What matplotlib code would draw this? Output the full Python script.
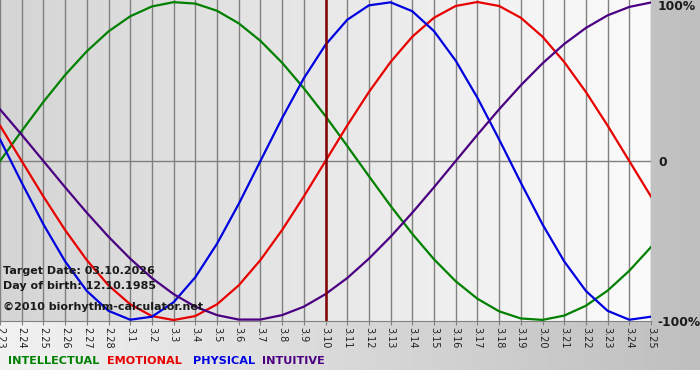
import numpy as np
import matplotlib
matplotlib.use("Agg")
import matplotlib.pyplot as plt
from matplotlib.colors import LinearSegmentedColormap

days = ["2.23", "2.24", "2.25", "2.26", "2.27", "2.28",
        "3.1", "3.2", "3.3", "3.4", "3.5", "3.6", "3.7", "3.8", "3.9", "3.10",
        "3.11", "3.12", "3.13", "3.14", "3.15", "3.16", "3.17", "3.18", "3.19",
        "3.20", "3.21", "3.22", "3.23", "3.24", "3.25"]

intellectual = [0.0, 0.189, 0.372, 0.541, 0.690, 0.815, 0.910, 0.972, 0.999, 0.990,
                0.945, 0.866, 0.756, 0.618, 0.458, 0.282, 0.095, -0.095, -0.282, -0.458,
                -0.618, -0.756, -0.866, -0.945, -0.990, -0.999, -0.972, -0.910, -0.815,
                -0.690, -0.541]
emotional = [0.223, 0.0, -0.223, -0.434, -0.623, -0.782, -0.901, -0.975, -1.0, -0.975,
             -0.901, -0.782, -0.623, -0.434, -0.223, 0.0, 0.223, 0.434, 0.623, 0.782,
             0.901, 0.975, 1.0, 0.975, 0.901, 0.782, 0.623, 0.434, 0.223, 0.0, -0.223]
physical = [0.136, -0.136, -0.398, -0.631, -0.817, -0.942, -0.998, -0.979, -0.888, -0.731,
            -0.520, -0.270, 0.0, 0.270, 0.520, 0.731, 0.888, 0.979, 0.998, 0.942,
            0.817, 0.631, 0.398, 0.136, -0.136, -0.398, -0.631, -0.817, -0.942, -0.998,
            -0.979]
intuitive = [0.325, 0.165, 0.0, -0.165, -0.325, -0.476, -0.614, -0.736, -0.837, -0.916,
             -0.969, -0.997, -0.997, -0.969, -0.916, -0.837, -0.736, -0.614, -0.476, -0.325,
             -0.165, 0.0, 0.165, 0.325, 0.476, 0.614, 0.736, 0.837, 0.916, 0.969, 0.997]

target_label = "3.10"
series = [("INTELLECTUAL", intellectual, "#008000"),
          ("EMOTIONAL", emotional, "#e80000"),
          ("PHYSICAL", physical, "#0000e0"),
          ("INTUITIVE", intuitive, "#4b0082")]

W, H = 700, 380
fig = plt.figure(figsize=(W / 100, H / 100), dpi=100)
fig.patch.set_facecolor("white")

# outer gradient panel
bg = fig.add_axes([0, 10 / H, 1, 1 - 10 / H], zorder=-10)
grad = np.linspace(0, 1, 256)[None, :]
cm_out = LinearSegmentedColormap.from_list("o", ["#f2f2f2", "#bfbfbf"])
bg.imshow(grad, aspect="auto", cmap=cm_out, extent=[0, 1, 0, 1])
bg.set_axis_off()

ax = fig.add_axes([0, (H - 321) / H, 651 / W, 321 / H])
x = np.arange(len(days))
ax.set_xlim(0, len(days) - 1)
ax.set_ylim(-1.006, 1.0126)

cm_in = LinearSegmentedColormap.from_list("i", ["#d5d5d5", "#fbfbfb"])
ax.imshow(grad, aspect="auto", cmap=cm_in, extent=[0, len(days) - 1, -1.006, 1.0126], zorder=0)

for xi in x:
    ax.axvline(xi, color="#808080", lw=1.0, zorder=1)
ax.axhline(0, color="#808080", lw=1.0, zorder=1)

for name, vals, col in series:
    ax.plot(x, vals, color=col, lw=1.6, zorder=3, solid_joinstyle="round")

ax.axvline(days.index(target_label), color="#800000", lw=1.8, zorder=4)

for s in ["top", "right", "left"]:
    ax.spines[s].set_visible(False)
ax.spines["bottom"].set_color("#808080")
ax.set_yticks([])
ax.set_xticks(x)
ax.set_xticklabels(days, rotation=270, fontsize=7, color="#222222")
ax.tick_params(axis="x", length=3, pad=1, color="#808080")

fkw = dict(fontsize=8, fontweight="bold", color="#1a1a1a", va="center", ha="left")
fig.text(3 / W, 1 - 271 / H, "Target Date: 03.10.2026", **fkw)
fig.text(3 / W, 1 - 286 / H, "Day of birth: 12.10.1985", **fkw)
fig.text(3 / W, 1 - 307 / H, "\u00a92010 biorhythm-calculator.net", **fkw)

rkw = dict(fkw, fontsize=8.8)
fig.text(658 / W, 1 - 7 / H, "100%", **rkw)
fig.text(658 / W, 1 - 162 / H, "0", **rkw)
fig.text(657 / W, 1 - 322 / H, "-100%", **rkw)

lx = {"INTELLECTUAL": 8, "EMOTIONAL": 107, "PHYSICAL": 193, "INTUITIVE": 262}
for name, vals, col in series:
    fig.text(lx[name] / W, 1 - 361 / H, name, fontsize=8.1, fontweight="bold",
             color=col, va="center", ha="left")

fig.savefig("out.png", dpi=100)
